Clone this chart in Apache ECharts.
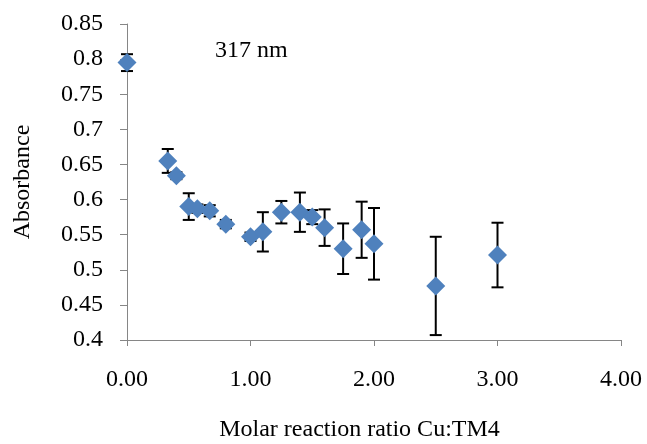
<!DOCTYPE html>
<html>
<head>
<meta charset="utf-8">
<script src="https://cdn.jsdelivr.net/npm/echarts@6/dist/echarts.min.js"></script>
<style>
  html, body { margin: 0; padding: 0; background: #ffffff; }
  #chart { width: 647px; height: 444px; }
</style>
</head>
<body>
<div id="chart"></div>
<script>
// Molar reaction ratio Cu:TM4 (x) against absorbance at 317 nm (y), with ± error
const ratio = [0.00, 0.33, 0.40, 0.50, 0.57, 0.67, 0.80, 1.00, 1.10, 1.25, 1.40, 1.50, 1.60, 1.75, 1.90, 2.00, 2.50, 3.00];
const absorbance = [0.795, 0.655, 0.634, 0.590, 0.587, 0.584, 0.565, 0.547, 0.554, 0.582, 0.582, 0.575, 0.560, 0.530, 0.557, 0.537, 0.477, 0.521];
const errorSize = [0.012, 0.017, 0.005, 0.019, 0.006, 0.008, 0.006, 0.006, 0.028, 0.016, 0.028, 0.010, 0.026, 0.036, 0.040, 0.051, 0.070, 0.046];

const xTicks = { min: 0, max: 4, interval: 1 };
const yTicks = { min: 0.4, max: 0.85, interval: 0.05 };

const FONT = '"Liberation Serif", "Times New Roman", serif';
const FONT_SIZE = 24;
const AXIS_GRAY = '#868686';

const points = ratio.map((x, i) => [x, absorbance[i]]);
const errorRanges = ratio.map((x, i) => [x, absorbance[i] - errorSize[i], absorbance[i] + errorSize[i]]);

const chart = echarts.init(document.getElementById('chart'), null, { renderer: 'canvas' });

chart.setOption({
  animation: false,
  backgroundColor: '#ffffff',
  grid: { left: 127, right: 26, top: 24, bottom: 104, containLabel: false, outerBoundsMode: 'none' },
  xAxis: {
    type: 'value',
    min: xTicks.min, max: xTicks.max, interval: xTicks.interval,
    name: 'Molar reaction ratio Cu:TM4',
    nameLocation: 'middle',
    nameGap: 78,
    nameTextStyle: { fontFamily: FONT, fontSize: FONT_SIZE, color: '#000', padding: [0, 29, 0, 0] },
    axisLine: { show: true, onZero: false, lineStyle: { color: AXIS_GRAY, width: 1 } },
    axisTick: { show: true, inside: false, length: 6, lineStyle: { color: AXIS_GRAY } },
    splitLine: { show: false },
    axisLabel: {
      fontFamily: FONT, fontSize: FONT_SIZE, color: '#000', margin: 28,
      formatter: v => v.toFixed(2)
    }
  },
  yAxis: {
    type: 'value',
    min: yTicks.min, max: yTicks.max, interval: yTicks.interval,
    name: 'Absorbance',
    nameLocation: 'middle',
    nameGap: 92,
    nameTextStyle: { fontFamily: FONT, fontSize: FONT_SIZE, color: '#000' },
    axisLine: { show: true, onZero: false, lineStyle: { color: AXIS_GRAY, width: 1 } },
    axisTick: { show: true, inside: false, length: 7, lineStyle: { color: AXIS_GRAY } },
    splitLine: { show: false },
    axisLabel: {
      fontFamily: FONT, fontSize: FONT_SIZE, color: '#000', margin: 24,
      formatter: v => String(Number(v.toFixed(2)))
    }
  },
  graphic: [{
    type: 'text',
    left: 215, top: 39,
    style: { text: '317 nm', fontFamily: FONT, fontSize: FONT_SIZE, fill: '#000' }
  }],
  series: [
    {
      type: 'custom',
      name: 'error',
      z: 2,
      clip: false,
      data: errorRanges,
      encode: { x: 0, y: [1, 2] },
      renderItem: function (params, api) {
        const x = api.value(0);
        const lo = api.coord([x, api.value(1)]);
        const hi = api.coord([x, api.value(2)]);
        const hw = 6;
        const style = { stroke: '#000', lineWidth: 2 };
        return {
          type: 'group',
          children: [
            { type: 'line', shape: { x1: lo[0], y1: lo[1], x2: hi[0], y2: hi[1] }, style },
            { type: 'line', shape: { x1: hi[0] - hw, y1: hi[1], x2: hi[0] + hw, y2: hi[1] }, style },
            { type: 'line', shape: { x1: lo[0] - hw, y1: lo[1], x2: lo[0] + hw, y2: lo[1] }, style }
          ]
        };
      }
    },
    {
      type: 'scatter',
      name: 'Absorbance',
      z: 3,
      clip: false,
      symbol: 'diamond',
      symbolSize: 19,
      itemStyle: { color: '#4F81BD', opacity: 1 },
      data: points
    }
  ]
});
</script>
</body>
</html>
